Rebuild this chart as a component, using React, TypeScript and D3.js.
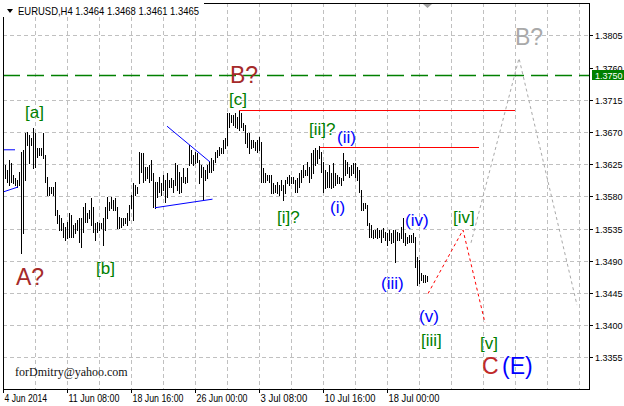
import React, { useEffect, useRef } from 'react';
import * as d3 from 'd3';

// EURUSD H4 bars, index 0 = 4 Jun 2014 00:00 (2px per bar)
const barHigh = [
  1.3620, 1.3624, 1.3617, 1.3631, 1.3627, 1.3610, 1.3606, 1.3603, 1.3614, 1.3642,
  1.3645, 1.3668, 1.3670, 1.3666, 1.3661, 1.3675, 1.3668, 1.3648, 1.3648, 1.3648,
  1.3668, 1.3638, 1.3607, 1.3593, 1.3593, 1.3593, 1.3600, 1.3561, 1.3554, 1.3550,
  1.3543, 1.3537, 1.3544, 1.3557, 1.3554, 1.3540, 1.3543, 1.3547, 1.3550, 1.3550,
  1.3565, 1.3571, 1.3557, 1.3561, 1.3578, 1.3565, 1.3543, 1.3544, 1.3543, 1.3543,
  1.3550, 1.3565, 1.3579, 1.3572, 1.3579, 1.3575, 1.3578, 1.3565, 1.3551, 1.3550,
  1.3550, 1.3550, 1.3557, 1.3568, 1.3582, 1.3599, 1.3596, 1.3593, 1.3642, 1.3641,
  1.3641, 1.3621, 1.3621, 1.3624, 1.3631, 1.3613, 1.3600, 1.3600, 1.3607, 1.3599,
  1.3610, 1.3603, 1.3613, 1.3603, 1.3606, 1.3603, 1.3627, 1.3624, 1.3614, 1.3607,
  1.3620, 1.3607, 1.3620, 1.3652, 1.3645, 1.3638, 1.3642, 1.3641, 1.3631, 1.3624,
  1.3621, 1.3617, 1.3624, 1.3628, 1.3634, 1.3631, 1.3642, 1.3645, 1.3649, 1.3648,
  1.3659, 1.3661, 1.3696, 1.3696, 1.3694, 1.3694, 1.3696, 1.3691, 1.3701, 1.3696,
  1.3682, 1.3680, 1.3668, 1.3668, 1.3659, 1.3659, 1.3656, 1.3659, 1.3663, 1.3656,
  1.3620, 1.3613, 1.3610, 1.3610, 1.3610, 1.3599, 1.3596, 1.3600, 1.3596, 1.3603,
  1.3596, 1.3603, 1.3607, 1.3610, 1.3607, 1.3607, 1.3603, 1.3606, 1.3613, 1.3617,
  1.3624, 1.3617, 1.3628, 1.3621, 1.3641, 1.3645, 1.3648, 1.3645, 1.3650, 1.3642,
  1.3628, 1.3617, 1.3614, 1.3624, 1.3613, 1.3627, 1.3613, 1.3610, 1.3607, 1.3606,
  1.3641, 1.3631, 1.3628, 1.3621, 1.3624, 1.3627, 1.3627, 1.3621, 1.3617, 1.3589,
  1.3571, 1.3571, 1.3568, 1.3543, 1.3540, 1.3533, 1.3533, 1.3536, 1.3533, 1.3533,
  1.3536, 1.3530, 1.3529, 1.3533, 1.3529, 1.3533, 1.3533, 1.3530, 1.3529, 1.3537,
  1.3550, 1.3529, 1.3523, 1.3526, 1.3526, 1.3529, 1.3523, 1.3495, 1.3491, 1.3473,
  1.3470, 1.3470, 1.3468,
];

const barLow = [
  1.3603, 1.3606, 1.3600, 1.3596, 1.3600, 1.3599, 1.3596, 1.3593, 1.3596, 1.3501,
  1.3529, 1.3603, 1.3652, 1.3627, 1.3652, 1.3620, 1.3621, 1.3635, 1.3638, 1.3638,
  1.3634, 1.3600, 1.3582, 1.3582, 1.3585, 1.3582, 1.3554, 1.3543, 1.3533, 1.3533,
  1.3523, 1.3519, 1.3522, 1.3523, 1.3523, 1.3523, 1.3529, 1.3533, 1.3516, 1.3509,
  1.3530, 1.3544, 1.3544, 1.3550, 1.3540, 1.3530, 1.3519, 1.3530, 1.3533, 1.3536,
  1.3512, 1.3533, 1.3550, 1.3561, 1.3564, 1.3561, 1.3561, 1.3536, 1.3536, 1.3537,
  1.3540, 1.3543, 1.3540, 1.3547, 1.3564, 1.3547, 1.3582, 1.3585, 1.3599, 1.3614,
  1.3600, 1.3603, 1.3606, 1.3600, 1.3603, 1.3565, 1.3564, 1.3579, 1.3586, 1.3582,
  1.3589, 1.3572, 1.3579, 1.3593, 1.3593, 1.3586, 1.3596, 1.3589, 1.3585, 1.3586,
  1.3600, 1.3599, 1.3600, 1.3624, 1.3627, 1.3624, 1.3627, 1.3628, 1.3599, 1.3607,
  1.3575, 1.3603, 1.3606, 1.3614, 1.3614, 1.3617, 1.3628, 1.3635, 1.3638, 1.3641,
  1.3641, 1.3648, 1.3652, 1.3677, 1.3684, 1.3680, 1.3677, 1.3675, 1.3673, 1.3677,
  1.3673, 1.3655, 1.3649, 1.3641, 1.3648, 1.3649, 1.3645, 1.3642, 1.3645, 1.3600,
  1.3600, 1.3600, 1.3603, 1.3600, 1.3585, 1.3585, 1.3586, 1.3585, 1.3582, 1.3589,
  1.3575, 1.3585, 1.3599, 1.3596, 1.3599, 1.3599, 1.3586, 1.3586, 1.3593, 1.3600,
  1.3607, 1.3610, 1.3610, 1.3600, 1.3606, 1.3613, 1.3624, 1.3627, 1.3634, 1.3614,
  1.3586, 1.3592, 1.3593, 1.3593, 1.3592, 1.3593, 1.3596, 1.3599, 1.3599, 1.3596,
  1.3603, 1.3610, 1.3613, 1.3607, 1.3610, 1.3613, 1.3607, 1.3603, 1.3586, 1.3561,
  1.3561, 1.3564, 1.3540, 1.3523, 1.3523, 1.3522, 1.3523, 1.3522, 1.3523, 1.3516,
  1.3523, 1.3519, 1.3512, 1.3519, 1.3515, 1.3516, 1.3488, 1.3519, 1.3519, 1.3522,
  1.3516, 1.3512, 1.3515, 1.3516, 1.3516, 1.3516, 1.3481, 1.3456, 1.3459, 1.3463,
  1.3460, 1.3460, 1.3461,
];

const priceTicks = [1.3805, 1.3760, 1.3715, 1.3670, 1.3625, 1.3580, 1.3535, 1.3490, 1.3445, 1.3400, 1.3355];
const timeTickBars = [0, 32, 64, 96, 128, 160, 192];
const timeTickLabels = ['4 Jun 2014', '11 Jun 08:00', '18 Jun 16:00', '26 Jun 00:00', '3 Jul 08:00', '10 Jul 16:00', '18 Jul 00:00'];

const levelPrice = 1.3750;

// trend lines: [bar1, price1, bar2, price2]
const blueLines = [
  [0, 1.3645, 6, 1.3645],
  [0, 1.3586, 7.5, 1.3593],
  [82, 1.3678, 103.5, 1.3628],
  [76, 1.3564, 104.75, 1.3576],
];
const redLines = [
  [118, 1.3701, 256, 1.3701],
  [158.5, 1.3649, 238, 1.3649],
];
const redPathBars = [212.5, 230, 241];
const redPathPrices = [1.3444, 1.3533, 1.3403];
const grayPathBars = [234, 258, 287];
const grayPathPrices = [1.3515, 1.3773, 1.3428];

// wave labels: text, bar, price (baseline), colour
const waveText = ['[a]', 'A?', '[b]', '[c]', 'B?', '[ii]?', '(ii)', '[i]?', '(i)', '(iii)', '(iv)', '(v)', '[iii]', '[iv]', '[v]', 'C', '(E)', 'B?'];
const waveBar = [11, 6.5, 46.5, 113, 113.5, 153, 167, 137, 163.5, 189, 201, 208, 209, 225, 238.5, 239.5, 249.5, 256];
const wavePrice = [1.3689, 1.3456, 1.3472, 1.3708, 1.3738, 1.3665, 1.3654, 1.3542, 1.3556, 1.3451, 1.3538, 1.3405, 1.3371, 1.3542, 1.3367, 1.3331, 1.3331, 1.3791];
const waveColor = ['g', 'br', 'g', 'g', 'br', 'g', 'b', 'g', 'b', 'b', 'b', 'b', 'g', 'g', 'g', 'r', 'b', 'gr'];

const colors: Record<string, string> = { g: '#008000', br: '#a52a2a', b: '#0000ff', r: '#c02a2a', gr: '#a9a9a9' };

const App = () => {
  const svgRef = useRef<SVGSVGElement | null>(null);

  useEffect(() => {
    if (!svgRef.current) return;
    const width = 624;
    const height = 406;
    const left = 3, right = 589, top = 3, bottom = 389;
    const font = 'Liberation Sans, Arial, sans-serif';

    const svg = d3.select(svgRef.current).attr('width', width).attr('height', height);
    svg.selectAll('*').remove();

    const x = d3.scaleLinear().domain([0, 293]).range([left, right]);
    const y = d3.scaleLinear().domain([1.3805, 1.3355]).range([35.3, 357.3]);

    svg.append('rect').attr('width', width).attr('height', height).attr('fill', '#ffffff');

    svg.append('clipPath').attr('id', 'plotclip').append('rect')
      .attr('x', left).attr('y', top).attr('width', right - left).attr('height', bottom - top);
    const plot = svg.append('g').attr('clip-path', 'url(#plotclip)');

    // grid
    d3.range(16, 294, 16).forEach(b => {
      plot.append('line')
        .attr('x1', x(b) + 0.5).attr('x2', x(b) + 0.5).attr('y1', top).attr('y2', bottom)
        .attr('stroke', '#c0c0c0').attr('stroke-dasharray', '4,3');
    });
    priceTicks.filter(p => p !== 1.3760).forEach(p => {
      const yy = Math.round(y(p)) + 0.5;
      plot.append('line')
        .attr('x1', left).attr('x2', right).attr('y1', yy).attr('y2', yy)
        .attr('stroke', '#c0c0c0').attr('stroke-dasharray', '4,3');
    });

    // level line
    const ly = Math.round(y(levelPrice)) + 0.5;
    plot.append('line')
      .attr('x1', left).attr('x2', right).attr('y1', ly).attr('y2', ly)
      .attr('stroke', '#008000').attr('stroke-width', 1.5).attr('stroke-dasharray', '17,7');

    // bars
    barHigh.forEach((h, i) => {
      plot.append('line')
        .attr('x1', x(i) + 0.5).attr('x2', x(i) + 0.5)
        .attr('y1', y(h)).attr('y2', y(barLow[i]) + 1)
        .attr('stroke', '#000000').attr('shape-rendering', 'crispEdges');
    });

    // trend lines
    blueLines.forEach(([b1, p1, b2, p2]) => {
      plot.append('line')
        .attr('x1', x(b1)).attr('y1', y(p1)).attr('x2', x(b2)).attr('y2', y(p2))
        .attr('stroke', '#0000ff').attr('stroke-width', 1);
    });
    redLines.forEach(([b1, p1, b2, p2]) => {
      plot.append('line')
        .attr('x1', x(b1)).attr('y1', Math.round(y(p1)) + 0.5).attr('x2', x(b2)).attr('y2', Math.round(y(p2)) + 0.5)
        .attr('stroke', '#ff0000').attr('stroke-width', 1);
    });

    // projected paths
    const redLine = d3.line<number>().x(d => x(d)).y((d, i) => y(redPathPrices[i]));
    const grayLine = d3.line<number>().x(d => x(d)).y((d, i) => y(grayPathPrices[i]));
    plot.append('path').attr('d', grayLine(grayPathBars))
      .attr('fill', 'none').attr('stroke', '#a9a9a9').attr('stroke-dasharray', '3,3');
    plot.append('path').attr('d', redLine(redPathBars))
      .attr('fill', 'none').attr('stroke', '#ff0000').attr('stroke-dasharray', '3,3');

    // wave labels
    waveText.forEach((t, i) => {
      const big = ['A?', 'B?', 'C', '(E)'].includes(t);
      plot.append('text')
        .attr('x', x(waveBar[i])).attr('y', y(wavePrice[i]))
        .attr('fill', colors[waveColor[i]])
        .style('font-family', font)
        .style('font-size', big ? '23px' : '17px')
        .text(t);
    });

    plot.append('text')
      .attr('x', 15).attr('y', 376)
      .attr('fill', '#111111')
      .style('font-family', 'Liberation Serif, Times New Roman, serif')
      .style('font-size', '12px')
      .text('forDmitry@yahoo.com');

    // frame
    svg.append('rect').attr('x', left + 0.5).attr('y', top + 0.5)
      .attr('width', right - left).attr('height', bottom - top)
      .attr('fill', 'none').attr('stroke', '#000000');

    // header
    svg.append('rect').attr('x', 0).attr('y', 0).attr('width', 204).attr('height', 17).attr('fill', '#ffffff');
    svg.append('path').attr('d', 'M7,9 L13,9 L10,13 Z').attr('fill', '#000000');
    svg.append('text')
      .attr('x', 18).attr('y', 15)
      .attr('fill', '#000000')
      .style('font-family', font)
      .style('font-size', '11px')
      .attr('textLength', 181).attr('lengthAdjust', 'spacingAndGlyphs')
      .text('EURUSD,H4  1.3464 1.3468 1.3461 1.3465');

    // shift marker
    svg.append('path').attr('d', 'M423,4 L432,4 L427.5,8 Z').attr('fill', '#a0a0a0');

    // price axis
    priceTicks.forEach(p => {
      const yy = Math.round(y(p)) + 0.5;
      svg.append('line').attr('x1', right).attr('x2', right + 4).attr('y1', yy).attr('y2', yy).attr('stroke', '#000000');
      svg.append('text')
        .attr('x', 595).attr('y', yy + 3.5)
        .attr('fill', '#000000')
        .style('font-family', font)
        .style('font-size', '9px')
        .text(p.toFixed(4));
    });
    svg.append('rect').attr('x', 592).attr('y', ly - 5.5).attr('width', 32).attr('height', 10).attr('fill', '#008000');
    svg.append('text')
      .attr('x', 595).attr('y', ly + 3.5)
      .attr('fill', '#ffffff')
      .style('font-family', font)
      .style('font-size', '9px')
      .text(levelPrice.toFixed(4));

    // time axis
    timeTickBars.forEach((b, i) => {
      const xx = x(b) + 0.5;
      svg.append('line').attr('x1', xx).attr('x2', xx).attr('y1', bottom).attr('y2', bottom + 4).attr('stroke', '#000000');
      const lbl = timeTickLabels[i];
      svg.append('text')
        .attr('x', xx + 1).attr('y', 401.5)
        .attr('fill', '#000000')
        .style('font-family', font)
        .style('font-size', '10px')
        .attr('textLength', lbl.length * 4.25).attr('lengthAdjust', 'spacingAndGlyphs')
        .text(lbl);
    });
  }, []);

  return (
    <div style={{ position: 'absolute', left: 0, top: 0 }}>
      <svg ref={svgRef} style={{ display: 'block' }}></svg>
    </div>
  );
};

export default App;
